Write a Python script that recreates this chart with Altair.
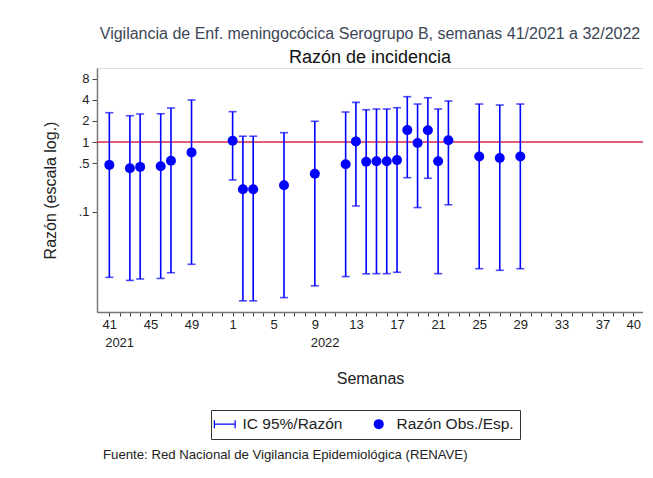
import altair as alt
import pandas as pd

# ---- data ----
semana = ["41", "43", "44", "46", "47", "49", "1", "2", "3", "6", "9", "12", "13",
          "14", "15", "16", "17", "18", "19", "20", "21", "22", "25", "27", "29"]
anio = [2021] * 6 + [2022] * 19
razon = [0.47, 0.42, 0.44, 0.45, 0.54, 0.71, 1.04, 0.21, 0.21, 0.24, 0.35, 0.48, 1.02,
         0.52, 0.53, 0.53, 0.55, 1.48, 0.97, 1.47, 0.53, 1.06, 0.62, 0.59, 0.62]
ic_inf = [0.0115, 0.0104, 0.0109, 0.0111, 0.0134, 0.0177, 0.286, 0.0053, 0.0053, 0.0059,
          0.0087, 0.0118, 0.121, 0.0129, 0.013, 0.013, 0.0136, 0.308, 0.115, 0.302,
          0.013, 0.126, 0.0153, 0.0145, 0.0153]
ic_sup = [2.63, 2.38, 2.52, 2.54, 3.07, 4.0, 2.72, 1.21, 1.21, 1.36, 1.98, 2.69, 3.7,
          2.9, 2.97, 2.97, 3.1, 4.46, 3.5, 4.31, 2.97, 3.87, 3.5, 3.39, 3.5]

y_ticks = [0.1, 0.5, 1, 2, 4, 8]
x_label_idx = [0, 4, 8, 12, 16, 20, 24, 28, 32, 36, 40, 44, 48, 51]
year_labels = ["2021", "2022"]
year_label_idx = [1, 21]

SERIE_IC = "IC 95%/Razón"
SERIE_PT = "Razón Obs./Esp."

# sequential week index: 41/2021 -> 0 ... 40/2022 -> 51
idx = [int(w) - 41 if a == 2021 else int(w) + 11 for w, a in zip(semana, anio)]

df = pd.DataFrame({"idx": idx, "razon": razon, "inf": ic_inf, "sup": ic_sup,
                   "serie": SERIE_PT})
years = pd.DataFrame({"idx": year_label_idx, "label": year_labels})
ref = pd.DataFrame({"y": [1]})
footer = pd.DataFrame({"t": ["Fuente: Red Nacional de Vigilancia Epidemiológica (RENAVE)"]})

FONT = "Liberation Sans"
BLUE = "#0000ff"
W, H = 546, 244

label_tests = " || ".join("datum.value == %d" % v for v in x_label_idx)
xlab_expr = ("(" + label_tests + ") ? "
             "(datum.value <= 11 ? '' + (datum.value + 41) : '' + (datum.value - 11)) : ''")

x_scale = alt.Scale(domain=[-1.2, 51.94], nice=False, zero=False)
y_scale = alt.Scale(type="log", domain=[0.003667, 11.49], nice=False)

x_axis = alt.Axis(values=list(range(52)), labelExpr=xlab_expr, grid=False,
                  tickSize=4, tickColor="#444", tickWidth=1,
                  domainColor="#777", domainWidth=1.5,
                  labelFontSize=13, labelColor="#222", labelFont=FONT,
                  labelPadding=2, labelOverlap=False, labelFlush=False, labelBound=False,
                  title="Semanas", titleFont=FONT, titleFontSize=16,
                  titleFontWeight="normal", titleColor="#222",
                  titleY=66, titleBaseline="middle")
y_axis = alt.Axis(values=y_ticks,
                  labelExpr="datum.value < 1 ? replace('' + datum.value, '0.', '.') : '' + datum.value",
                  grid=False, tickSize=5, tickColor="#444", tickWidth=1,
                  domainColor="#777", domainWidth=1.5,
                  labelFontSize=13, labelColor="#222", labelFont=FONT, labelPadding=3,
                  labelOverlap=False,
                  title="Razón (escala log.)", titleFont=FONT, titleFontSize=16,
                  titleFontWeight="normal", titleColor="#222",
                  titleX=-47, titleY=122, titleBaseline="middle", titleAngle=-90)

X = lambda f: alt.X(f, scale=x_scale, axis=x_axis)
Y = lambda f: alt.Y(f, scale=y_scale, axis=y_axis)

base = alt.Chart(df)

refline = alt.Chart(ref).mark_rule(color="#d6294d", strokeWidth=1.5).encode(y=Y("y:Q"))

bars = base.mark_rule(color=BLUE, strokeWidth=1.6).encode(
    x=X("idx:Q"), y=Y("inf:Q"), y2="sup:Q")

cap_lo = base.mark_tick(color=BLUE, orient="horizontal", size=8, thickness=1.6).encode(
    x=X("idx:Q"), y=Y("inf:Q"))
cap_hi = base.mark_tick(color=BLUE, orient="horizontal", size=8, thickness=1.6).encode(
    x=X("idx:Q"), y=Y("sup:Q"))

# legend symbol for the CI: |—| drawn as thin filled bars (wider than the unit square)
err_path = ("M-2.2,-0.8L-1.95,-0.8L-1.95,-0.13L1.95,-0.13L1.95,-0.8L2.2,-0.8L2.2,0.8"
            "L1.95,0.8L1.95,0.13L-1.95,0.13L-1.95,0.8L-2.2,0.8Z")
points = base.mark_point(filled=True, color=BLUE, opacity=1, size=100).encode(
    x=X("idx:Q"), y=Y("razon:Q"),
    shape=alt.Shape("serie:N",
                    scale=alt.Scale(domain=[SERIE_IC, SERIE_PT], range=[err_path, "circle"]),
                    legend=alt.Legend(title=None, orient="none", legendX=114, legendY=342,
                                      direction="horizontal", strokeColor="#333",
                                      padding=6, labelFont=FONT, labelFontSize=15.5,
                                      labelColor="#222", columnPadding=28, labelOffset=10,
                                      symbolFillColor=BLUE, symbolSize=100,
                                      symbolStrokeWidth=0, symbolOpacity=1)))

year_text = alt.Chart(years).mark_text(font=FONT, fontSize=13, color="#222",
                                       baseline="middle").encode(
    x=X("idx:Q"), y=alt.value(H + 31), text="label:N")

foot = alt.Chart(footer).mark_text(font=FONT, fontSize=13.2, color="#222", align="left",
                                   baseline="middle").encode(
    x=alt.value(6), y=alt.value(387), text="t:N")

chart = alt.layer(refline, bars, cap_lo, cap_hi, points, year_text, foot).properties(
    width=W, height=H,
    autosize=alt.AutoSizeParams(type="none"),
    padding={"left": 89, "top": 60, "right": 0, "bottom": 156},
    title=alt.Title(text="Vigilancia de Enf. meningocócica Serogrupo B, semanas 41/2021 a 32/2022",
                    subtitle="Razón de incidencia", anchor="middle", font=FONT,
                    fontSize=16, fontWeight="normal", color="#3c4656",
                    subtitleFont=FONT, subtitleFontSize=18, subtitleColor="#111",
                    offset=1, subtitlePadding=7),
).configure_view(stroke=None).configure(background="white")

chart.save("out.html", embed_options={"renderer": "svg", "actions": False})
